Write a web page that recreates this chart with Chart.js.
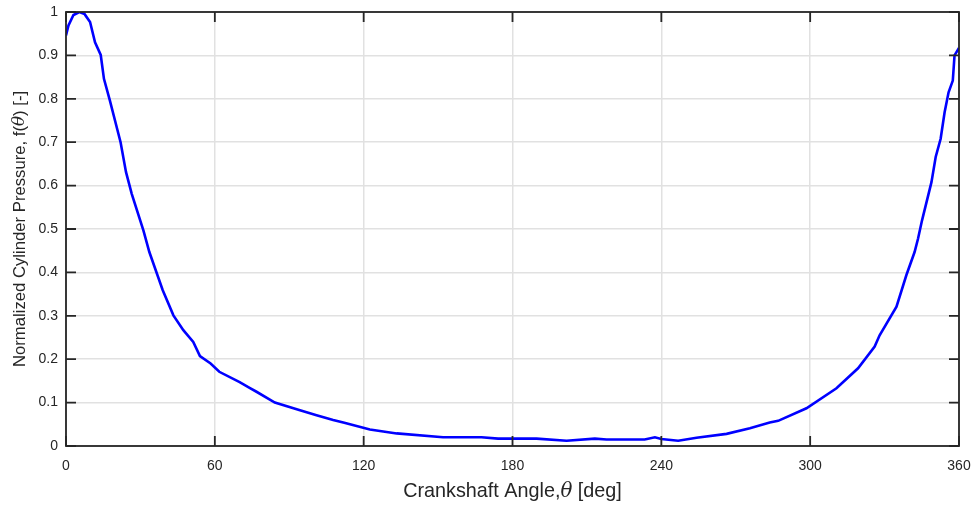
<!DOCTYPE html>
<html lang="en">
<head>
  <meta charset="UTF-8" />
  <title>Normalized Cylinder Pressure</title>
  <script src="https://cdn.jsdelivr.net/npm/chart.js"></script>
  <style>
    html, body { margin: 0; padding: 0; background: #ffffff; }
    #wrap { width: 974px; height: 506px; position: relative; }
  </style>
</head>
<body>
  <div id="wrap"><canvas id="pressureChart"></canvas></div>

  <script>
    // crank angle [deg] and normalized pressure
    const angles = [0, 1, 3, 5.4, 7.5, 9.7, 11.7, 14, 15.3, 17.7, 22, 24.2, 26.5, 31.2, 33.6, 39,
      43.3, 47.3, 51.3, 54, 58.3, 61.8, 70, 74, 76.8, 84.2, 94, 101, 107.7, 111.8, 122.5, 133.3,
      152, 167.5, 174.2, 189.7, 201.8, 213.2, 217.9, 233.3, 237.4, 240, 246.8, 254.2, 266.3,
      275.7, 283.7, 287.1, 298.5, 310.6, 319.3, 326, 328, 334.8, 338.8, 342.1, 343.5, 345.1,
      348.9, 350.6, 352.6, 354.2, 355.8, 357.5, 358.2, 360];
    const pressure = [0.946, 0.969, 0.993, 1.0, 0.995, 0.977, 0.93, 0.901, 0.846, 0.796, 0.700,
      0.631, 0.581, 0.497, 0.447, 0.359, 0.301, 0.267, 0.240, 0.207, 0.190, 0.171, 0.147, 0.134,
      0.125, 0.100, 0.083, 0.071, 0.060, 0.054, 0.038, 0.029, 0.020, 0.020, 0.017, 0.017, 0.012,
      0.017, 0.015, 0.015, 0.020, 0.016, 0.012, 0.019, 0.028, 0.041, 0.054, 0.058, 0.087, 0.133,
      0.179, 0.229, 0.255, 0.321, 0.394, 0.447, 0.478, 0.520, 0.608, 0.666, 0.708, 0.769, 0.815,
      0.842, 0.900, 0.917];

    const xTicks = [0, 60, 120, 180, 240, 300, 360];
    const yTicks = [0, 0.1, 0.2, 0.3, 0.4, 0.5, 0.6, 0.7, 0.8, 0.9, 1];

    const axisColor = '#262626';
    const fontFamily = '"Liberation Sans", Arial, Helvetica, sans-serif';

    // box around the axes, inward tick marks, and the axis titles (with italic theta)
    const matlabAxes = {
      id: 'matlabAxes',
      afterDraw(chart) {
        const ctx = chart.ctx;
        const a = chart.chartArea;
        const xs = chart.scales.x, ys = chart.scales.y;
        const tl = 10;
        ctx.save();
        ctx.strokeStyle = axisColor;
        ctx.lineWidth = 1.8;
        ctx.strokeRect(a.left, a.top, a.right - a.left, a.bottom - a.top);
        ctx.beginPath();
        xTicks.forEach(v => {
          const px = xs.getPixelForValue(v);
          ctx.moveTo(px, a.bottom); ctx.lineTo(px, a.bottom - tl);
          ctx.moveTo(px, a.top); ctx.lineTo(px, a.top + tl);
        });
        yTicks.forEach(v => {
          const py = ys.getPixelForValue(v);
          ctx.moveTo(a.left, py); ctx.lineTo(a.left + tl, py);
          ctx.moveTo(a.right, py); ctx.lineTo(a.right - tl, py);
        });
        ctx.stroke();

        // titles
        ctx.fillStyle = axisColor;
        ctx.textBaseline = 'middle';
        const drawParts = (parts, cx, cy) => {
          let w = 0;
          parts.forEach(p => { ctx.font = p[1]; w += ctx.measureText(p[0]).width; });
          let x = cx - w / 2;
          ctx.textAlign = 'left';
          parts.forEach(p => { ctx.font = p[1]; ctx.fillText(p[0], x, cy); x += ctx.measureText(p[0]).width; });
        };
        const xNorm = '19.8px ' + fontFamily;
        const xItal = 'italic 19.8px "DejaVu Serif", "Liberation Serif", serif';
        drawParts([['Crankshaft Angle,', xNorm], ['\u03b8', xItal], [' [deg]', xNorm]],
          (a.left + a.right) / 2, 492);
        const yNorm = '16.7px ' + fontFamily;
        const yItal = 'italic 16.7px "DejaVu Serif", "Liberation Serif", serif';
        ctx.translate(20, (a.top + a.bottom) / 2);
        ctx.rotate(-Math.PI / 2);
        drawParts([['Normalized Cylinder Pressure, f(', yNorm], ['\u03b8', yItal], [') [-]', yNorm]], 0, 0);
        ctx.restore();
      }
    };

    const ctx = document.getElementById('pressureChart');
    new Chart(ctx, {
      type: 'line',
      data: {
        datasets: [{
          data: angles.map((a, i) => ({ x: a, y: pressure[i] })),
          borderColor: '#0000ff',
          borderWidth: 2.6,
          pointRadius: 0,
          tension: 0,
          fill: false
        }]
      },
      options: {
        responsive: true,
        maintainAspectRatio: false,
        animation: false,
        events: [],
        layout: { padding: { left: 0, top: 12, right: 15, bottom: 0 } },
        plugins: { legend: { display: false }, tooltip: { enabled: false } },
        scales: {
          x: {
            type: 'linear',
            min: 0, max: 360,
            afterBuildTicks: s => { s.ticks = xTicks.map(v => ({ value: v })); },
            afterFit: s => { s.height = 60; s.paddingLeft = 0; s.paddingRight = 0; },
            grid: { color: '#e1e1e1', lineWidth: 1.5, drawTicks: false },
            border: { display: false },
            ticks: {
              padding: 12,
              color: axisColor,
              font: { family: fontFamily, size: 14 },
              maxRotation: 0
            }
          },
          y: {
            min: 0, max: 1,
            afterBuildTicks: s => { s.ticks = yTicks.map(v => ({ value: v })); },
            afterFit: s => { s.width = 66; s.paddingTop = 0; s.paddingBottom = 0; },
            grid: { color: '#e1e1e1', lineWidth: 1.5, drawTicks: false },
            border: { display: false },
            ticks: {
              padding: 8,
              color: axisColor,
              font: { family: fontFamily, size: 14 },
              callback: v => String(Math.round(v * 10) / 10)
            }
          }
        }
      },
      plugins: [matlabAxes]
    });
  </script>
</body>
</html>
